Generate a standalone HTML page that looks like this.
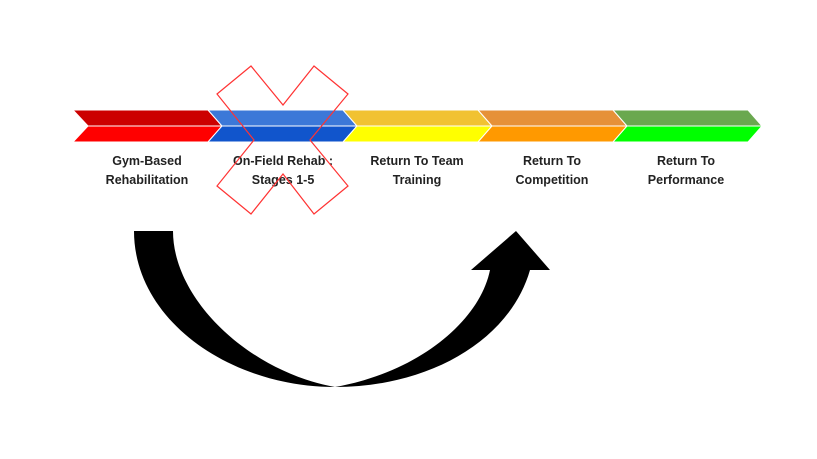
<!DOCTYPE html>
<html><head><meta charset="utf-8"><style>
html,body{margin:0;padding:0;background:#fff;}
svg{display:block}
text{font-family:"Liberation Sans",Arial,sans-serif;font-weight:bold;font-size:12.5px;fill:#222;text-anchor:middle}
</style></head><body>
<svg width="817" height="459" viewBox="0 0 817 459">
<!-- chevrons -->
<g stroke="#fff" stroke-width="1">
<polygon points="73,110 208,110 222,126 88,126" fill="#cc0000"/>
<polygon points="88,126 222,126 208,142 73,142" fill="#ff0000"/>
<polygon points="208,110 343,110 357,126 222,126" fill="#3c78d8"/>
<polygon points="222,126 357,126 343,142 208,142" fill="#1155cc"/>
<polygon points="343,110 478,110 492,126 357,126" fill="#f1c232"/>
<polygon points="357,126 492,126 478,142 343,142" fill="#ffff00"/>
<polygon points="478,110 613,110 627,126 492,126" fill="#e69138"/>
<polygon points="492,126 627,126 613,142 478,142" fill="#ff9900"/>
<polygon points="613,110 748,110 762,126 627,126" fill="#6aa84f"/>
<polygon points="627,126 762,126 748,142 613,142" fill="#00ff00"/>
</g>
<text x="147" y="165">Gym-Based</text><text x="147" y="184">Rehabilitation</text>
<text x="283" y="165">On-Field Rehab :</text><text x="283" y="184">Stages 1-5</text>
<text x="417" y="165">Return To Team</text><text x="417" y="184">Training</text>
<text x="552" y="165">Return To</text><text x="552" y="184">Competition</text>
<text x="686" y="165">Return To</text><text x="686" y="184">Performance</text>
<!-- X -->
<polygon points="217,94 251,66 283,105 314,66 348,94 310,140 348,186 314,214 283,174 251,214 217,186 254,140" fill="none" stroke="#ff3333" stroke-width="1.2"/>
<!-- curved arrow -->
<path d="M134,231 L173,231 C173,300 250,372 335,387 C420,372 480,320 490,270 L471,270 L516,231 L550,270 L530,270 C510,340 430,387 335,387 C230,387 134,320 134,231 Z" fill="#000"/>
</svg>
</body></html>
